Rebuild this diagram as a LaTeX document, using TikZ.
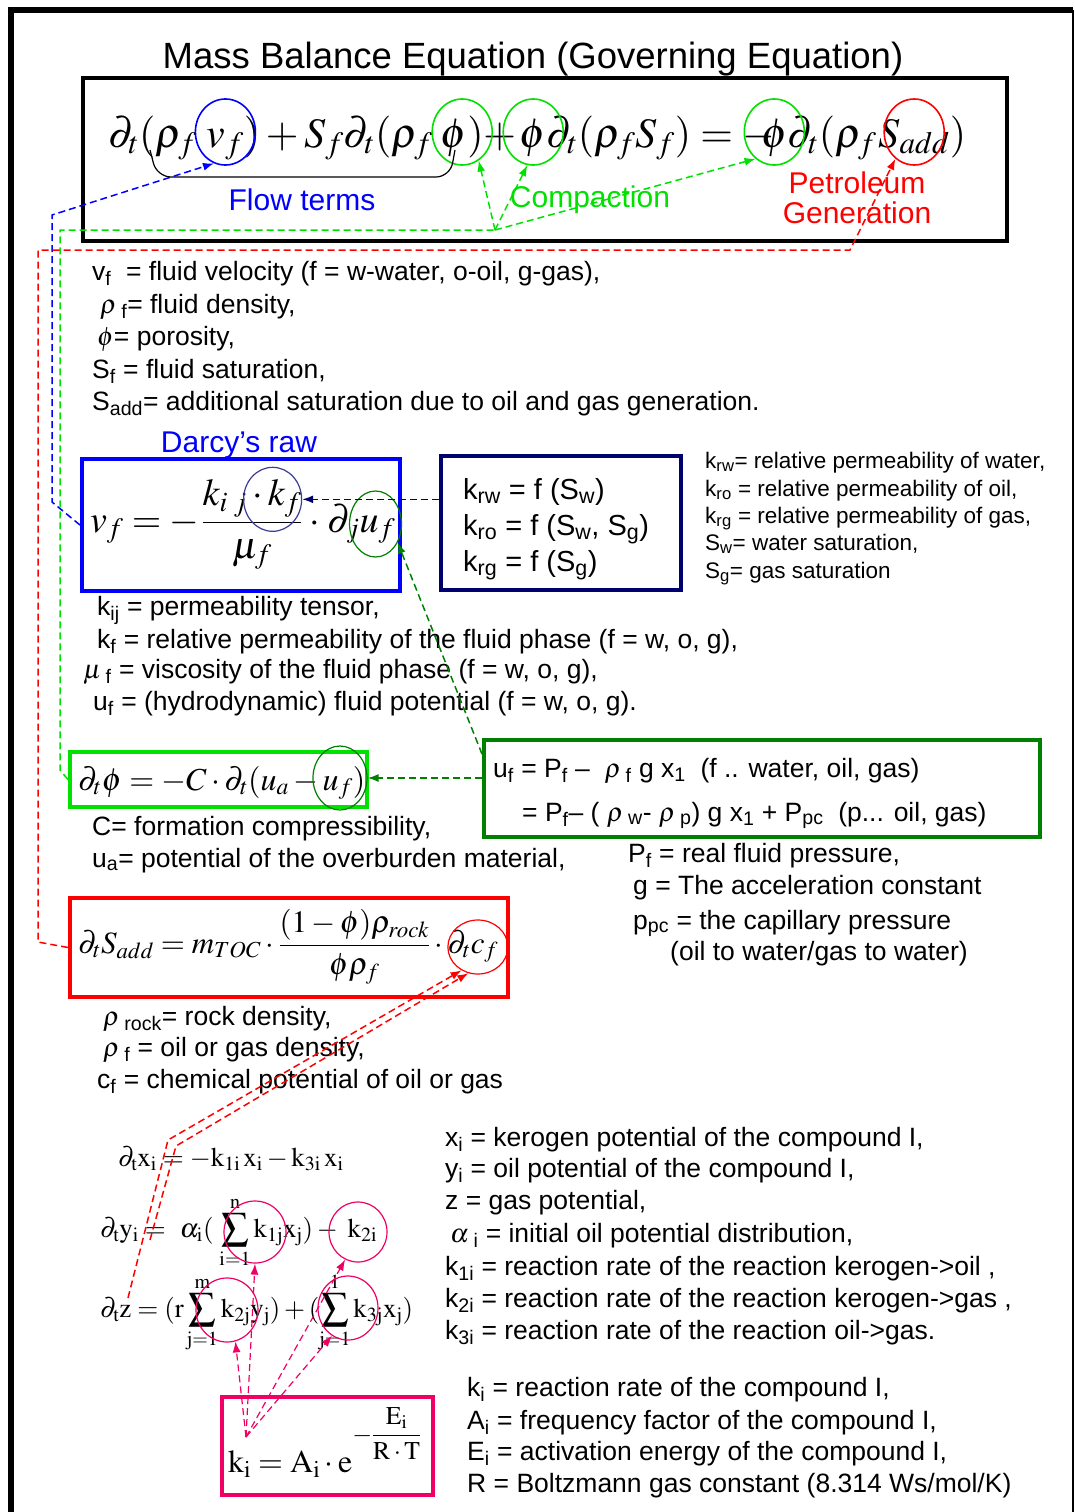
\documentclass[tikz,border=0pt]{standalone}
\usepackage{amsmath}
\usepackage{mathptmx}
\usepackage[no-math]{fontspec}
\setmainfont{Liberation Sans}
\usetikzlibrary{arrows.meta,positioning,shapes.geometric,calc}

\definecolor{flowblue}{RGB}{0,0,255}
\definecolor{compgreen}{RGB}{0,225,0}
\definecolor{darkgreen}{RGB}{0,128,0}
\definecolor{darcynavy}{RGB}{0,0,110}
\definecolor{ringnavy}{RGB}{60,60,150}
\definecolor{petrored}{RGB}{255,0,0}
\definecolor{kinpink}{RGB}{240,0,100}

\tikzset{
  txt/.style={anchor=base west, inner sep=0pt, font=\fontsize{26.5}{32}\selectfont},
  smalltxt/.style={anchor=base west, inner sep=0pt, font=\fontsize{22.5}{27}\selectfont},
  lbl/.style={anchor=base, inner sep=0pt, font=\fontsize{30}{34}\selectfont},
  eqpart/.style={anchor=base west, inner sep=0pt, outer sep=0pt, font=\fontsize{42}{48}\selectfont},
  eqbox/.style={draw=#1, line width=4pt, rectangle, inner sep=0pt},
  ring/.style={draw=#1, ellipse, line width=1.6pt, minimum width=60pt, minimum height=66pt, inner sep=0pt},
  link/.style={draw=#1, dash pattern=on 7pt off 4pt, line width=1.5pt},
  linkarrow/.style={-{Latex[length=11pt,width=8pt]}},
}

\begin{document}
\begin{tikzpicture}[x=1pt, y=-1pt]
\fill[white] (0,0) rectangle (1075,1512);
\useasboundingbox (0,0) rectangle (1075,1512);

% outer frame
\draw[line width=6pt] (11,1512) -- (11,10) -- (1073,10);
\draw[line width=1.5pt] (1073,10) -- (1073,1512);

\node[anchor=base, inner sep=0pt, font=\fontsize{36.5}{40}\selectfont] (title) at (533,68) {Mass Balance Equation (Governing Equation)};

% boxes
\node[eqbox=black, minimum width=924pt, minimum height=163pt] (govbox) at (545,159.5) {};
\node[eqbox=flowblue, minimum width=318pt, minimum height=132pt] (darcybox) at (241,525) {};
\node[eqbox=darcynavy, minimum width=240pt, minimum height=134pt] (krwbox) at (561,523) {};
\node[eqbox=compgreen, minimum width=297pt, minimum height=55pt] (phibox) at (218.5,779.5) {};
\node[eqbox=darkgreen, minimum width=556pt, minimum height=97pt] (ufbox) at (762,788.5) {};
\node[eqbox=petrored, minimum width=438pt, minimum height=99pt] (sbox) at (289,947.5) {};
\node[eqbox=kinpink, minimum width=211pt, minimum height=98pt] (kbox) at (327.5,1446) {};

% governing equation, piece by piece
\node[eqpart] (mfirst) at (108,147) {$\partial_t(\rho_f$};
\node[eqpart] (mvel) at ($(mfirst.base east)+(10,0)$) {$v_f$};
\node[eqpart] (msecond) at (mvel.base east) {$)+S_f\partial_t(\rho_f$};
\node[eqpart] (mporea) at ($(msecond.base east)+(8,0)$) {$\phi)$};
\node[eqpart] (mplus) at ($(mporea.base east)+(-6,0)$) {${}+{}$};
\node[eqpart] (mporeb) at ($(mplus.base east)+(-2,0)$) {$\phi$};
\node[eqpart] (mthird) at (mporeb.base east) {$\partial_t(\rho_f S_f)=\mathord{-}$};
\node[eqpart] (mporec) at ($(mthird.base east)+(-14,0)$) {$\phi$};
\node[eqpart] (mfourth) at (mporec.base east) {$\partial_t(\rho_f$};
\node[eqpart] (mgen) at ($(mfourth.base east)+(2,0)$) {$S_{add}$};
\node[eqpart] (mlast) at (mgen.base east) {$)$};

\node[ring=flowblue] (cvel) at ($(mvel.base)+(0,-15)$) {};
\node[ring=compgreen] (cporea) at ($(mporea.base)+(0,-15)$) {};
\node[ring=compgreen] (cporeb) at ($(mporeb.base)+(0,-15)$) {};
\node[ring=compgreen] (cporec) at ($(mporec.base)+(0,-15)$) {};
\node[ring=petrored] (cgen) at ($(mgen.base)+(0,-15)$) {};
\draw[line width=1.2pt, rounded corners=14pt] (150,150) -- (157,177) -- (450,177) -- (455,150);

\node[lbl, text=flowblue] (flowlbl) at (302,210) {Flow terms};
\node[lbl, text=compgreen] (complbl) at (590,207) {Compaction};
\node[lbl, text=petrored, align=center, font=\fontsize{30}{30}\selectfont] (genlbl) at (857,223) {Petroleum\\Generation};

% definitions of the governing equation
\foreach \x/\y/\line [count=\n] in {
  92/280/{v\textsubscript{f}\ \ = fluid velocity (f = w-water, o-oil, g-gas),},
  100/313/{$\rho$\,\textsubscript{f}= fluid density,},
  97/345/{$\phi$= porosity,},
  92/378/{S\textsubscript{f} = fluid saturation,},
  92/410/{S\textsubscript{add}= additional saturation due to oil and gas generation.}}
  \node[txt] (gov\n) at (\x,\y) {\line};

% Darcy
\node[lbl, text=flowblue] (darcylbl) at (239,452) {Darcy’s raw};
\node[eqpart, font=\fontsize{38}{44}\selectfont] (darcya) at (90,532) {$v_f = -$};
\node[eqpart, font=\fontsize{38}{44}\selectfont] (darcyb) at ($(darcya.base east)+(2,0)$) {$\dfrac{k_{i\,\,j}\cdot k_f}{\mu_f}$};
\node[eqpart, font=\fontsize{38}{44}\selectfont] (darcyc) at ($(darcyb.base east)+(2,0)$) {${}\cdot{}$};
\node[eqpart, font=\fontsize{38}{44}\selectfont] (darcyd) at ($(darcyc.base east)+(2,0)$) {$\partial_j u_f$};
\node[ring=ringnavy, line width=1.2pt, minimum width=58pt, minimum height=64pt] (ckrel) at ($(darcyb.north east)+(-30,20)$) {};
\node[ring=darkgreen, line width=1.2pt, minimum width=52pt, minimum height=66pt] (cpot) at ($(darcyd.base)+(14,-8)$) {};

\foreach \y/\line [count=\n] in {
  499/{k\textsubscript{rw} = f (S\textsubscript{w})},
  535/{k\textsubscript{ro} = f (S\textsubscript{w}, S\textsubscript{g})},
  571/{k\textsubscript{rg} = f (S\textsubscript{g})}}
  \node[txt, font=\fontsize{29}{34}\selectfont] (krw\n) at (463,\y) {\line};

\foreach \y/\line [count=\n] in {
  468/{k\textsubscript{rw}= relative permeability of water,},
  496/{k\textsubscript{ro} = relative permeability of oil,},
  523/{k\textsubscript{rg} = relative permeability of gas,},
  550/{S\textsubscript{w}= water saturation,},
  578/{S\textsubscript{g}= gas saturation}}
  \node[smalltxt] (rel\n) at (705,\y) {\line};

\foreach \x/\y/\line [count=\n] in {
  97/615/{k\textsubscript{ij} = permeability tensor,},
  97/648/{k\textsubscript{f} = relative permeability of the fluid phase (f = w, o, g),},
  83/678/{$\mu$\,\textsubscript{f} = viscosity of the fluid phase (f = w, o, g),},
  93/710/{u\textsubscript{f} = (hydrodynamic) fluid potential (f = w, o, g).}}
  \node[txt] (darcy\n) at (\x,\y) {\line};

% compaction
\node[eqpart, font=\fontsize{32}{36}\selectfont] (phia) at (78,790) {$\partial_t\phi=-C\cdot\partial_t(u_a-{}$};
\node[eqpart, font=\fontsize{32}{36}\selectfont] (phib) at (phia.base east) {$u_f)$};
\node[ring=darkgreen, line width=1.2pt, minimum width=54pt, minimum height=64pt] (cpotb) at ($(phib.base)+(-4,-12)$) {};
\node[txt] (uf1) at (493,777) {u\textsubscript{f} = P\textsubscript{f} – \ $\rho$\,\textsubscript{f} g x\textsubscript{1}\ \ (f .. water, oil, gas)};
\node[txt] (uf2) at (522,821) {= P\textsubscript{f}– ( $\rho$\,\textsubscript{w}- $\rho$\,\textsubscript{p}) g x\textsubscript{1} + P\textsubscript{pc}\ \ (p... oil, gas)};
\node[txt] (comp1) at (92,835) {C= formation compressibility,};
\node[txt] (comp2) at (92,867) {u\textsubscript{a}= potential of the overburden material,};
\foreach \x/\y/\line [count=\n] in {
  628/862/{P\textsubscript{f} = real fluid pressure,},
  633/894/{g = The acceleration constant},
  633/929/{p\textsubscript{pc} = the capillary pressure},
  670/960/{(oil to water/gas to water)}}
  \node[txt] (pres\n) at (\x,\y) {\line};

% generation
\node[eqpart, font=\fontsize{31}{36}\selectfont] (sadda) at (78,953) {$\partial_t S_{add} = m_{TOC}\cdot\dfrac{(1-\phi)\rho_{rock}}{\phi\rho_f}\cdot{}$};
\node[eqpart, font=\fontsize{31}{36}\selectfont] (saddb) at (sadda.base east) {$\partial_t c_f$};
\node[ring=petrored, line width=1.2pt, minimum width=60pt, minimum height=54pt] (cchem) at ($(saddb.base)+(5,-6)$) {};
\foreach \x/\y/\line [count=\n] in {
  103/1025/{$\rho$\,\textsubscript{rock}= rock density,},
  103/1056/{$\rho$\,\textsubscript{f} = oil or gas density,},
  97/1088/{c\textsubscript{f} = chemical potential of oil or gas}}
  \node[txt] (rock\n) at (\x,\y) {\line};

% kinetics
\node[eqpart, font=\fontsize{27}{30}\selectfont] (kineqa) at (118,1166) {$\partial_{\mathrm t}\mathrm{x_i} = -\mathrm{k_{1i}\,x_i} - \mathrm{k_{3i}\,x_i}$};
\node[eqpart, font=\fontsize{27}{30}\selectfont] (kineqb) at (100,1237) {$\partial_{\mathrm t}\mathrm{y_i} =\hspace{8pt} \alpha_{\mathrm i}(\hspace{6pt}\displaystyle\sum_{\mathrm{i=1}}^{\mathrm n}\mathrm{k_{1j}x_j}) - \hspace{6pt}\mathrm{k_{2i}}$};
\node[eqpart, font=\fontsize{27}{30}\selectfont] (kineqc) at (100,1317) {$\partial_{\mathrm t}\mathrm z = (\mathrm r\displaystyle\sum_{\mathrm{j=1}}^{\mathrm m}\mathrm{k_{2j}y_j}) + (\sum_{\mathrm{j=1}}^{\mathrm 1}\mathrm{k_{3j}x_j})$};
\node[eqpart, font=\fontsize{32}{36}\selectfont] (rateeq) at (228,1472) {$\mathrm{k_i} = \mathrm{A_i}\cdot\mathrm e$\raisebox{30pt}{\scalebox{0.8}{$-\dfrac{\mathrm{E_i}}{\mathrm{R\cdot T}}$}}};
\node[ring=kinpink, line width=1.2pt, minimum width=62pt, minimum height=62pt] (csuma) at (255,1232) {};
\node[ring=kinpink, line width=1.2pt, minimum width=58pt, minimum height=60pt] (ckb) at (358,1232) {};
\node[ring=kinpink, line width=1.2pt, minimum width=62pt, minimum height=64pt] (csumb) at (227,1310) {};
\node[ring=kinpink, line width=1.2pt, minimum width=60pt, minimum height=64pt] (csumc) at (348,1308) {};

\foreach \y/\line [count=\n] in {
  1146/{x\textsubscript{i} = kerogen potential of the compound I,},
  1177/{y\textsubscript{i} = oil potential of the compound I,},
  1209/{z = gas potential,},
  1242/{\hspace{5pt}$\alpha$\,\textsubscript{i} = initial oil potential distribution,},
  1275/{k\textsubscript{1i} = reaction rate of the reaction kerogen->oil ,},
  1307/{k\textsubscript{2i} = reaction rate of the reaction kerogen->gas ,},
  1339/{k\textsubscript{3i} = reaction rate of the reaction oil->gas.}}
  \node[txt] (kin\n) at (445,\y) {\line};
\foreach \y/\line [count=\n] in {
  1396/{k\textsubscript{i} = reaction rate of the compound I,},
  1429/{A\textsubscript{i} = frequency factor of the compound I,},
  1460/{E\textsubscript{i} = activation energy of the compound I,},
  1492/{R = Boltzmann gas constant (8.314 Ws/mol/K)}}
  \node[txt] (rate\n) at (467,\y) {\line};

% dashed links
\coordinate (bluelow) at (52,502);
\coordinate (bluehigh) at (52,215);
\draw[link=flowblue, linkarrow] (darcybox.west) -- (bluelow) -- (bluehigh) -- (cvel.250);

\coordinate (greenlow) at (60,770);
\coordinate (greenhigh) at (60,230);
\coordinate (greensplit) at (495,230);
\draw[link=compgreen] (phibox.west) -- (greenlow) -- (greenhigh) -- (greensplit);
\foreach \target/\ang in {cporea/300, cporeb/260, cporec/235}
  \draw[link=compgreen, linkarrow] (greensplit) -- (\target.\ang);

\coordinate (redtop) at (850,250);
\coordinate (redcorner) at (38,250);
\coordinate (redlow) at (38,942);
\draw[link=petrored, linkarrow] (sbox.west) -- (redlow) -- (redcorner) -- (redtop) -- (cgen.235);

\draw[link=darcynavy, linkarrow] (ckrel -| krwbox.west) -- (ckrel.east);
\draw[link=darkgreen, linkarrow] ($(ufbox.north west)+(0,16)$) -- (cpot.320);
\draw[link=darkgreen, linkarrow] (cpotb -| ufbox.west) -- (cpotb.east);

\coordinate (zfoot) at (128,1298);
\coordinate (zbend) at (168,1140);
\coordinate (yfoot) at (150,1240);
\coordinate (ybend) at (176,1146);
\draw[link=petrored, linkarrow] (zfoot) -- (zbend) -- (cchem.235);
\draw[link=petrored, linkarrow] (yfoot) -- (ybend) -- (cchem.250);

\coordinate (kfoot) at (246,1437);
\foreach \target/\ang in {csuma/270, ckb/245, csumb/285, csumc/240}
  \draw[link=kinpink, line width=1.2pt, linkarrow] (kfoot) -- (\target.\ang);
\end{tikzpicture}
\end{document}
